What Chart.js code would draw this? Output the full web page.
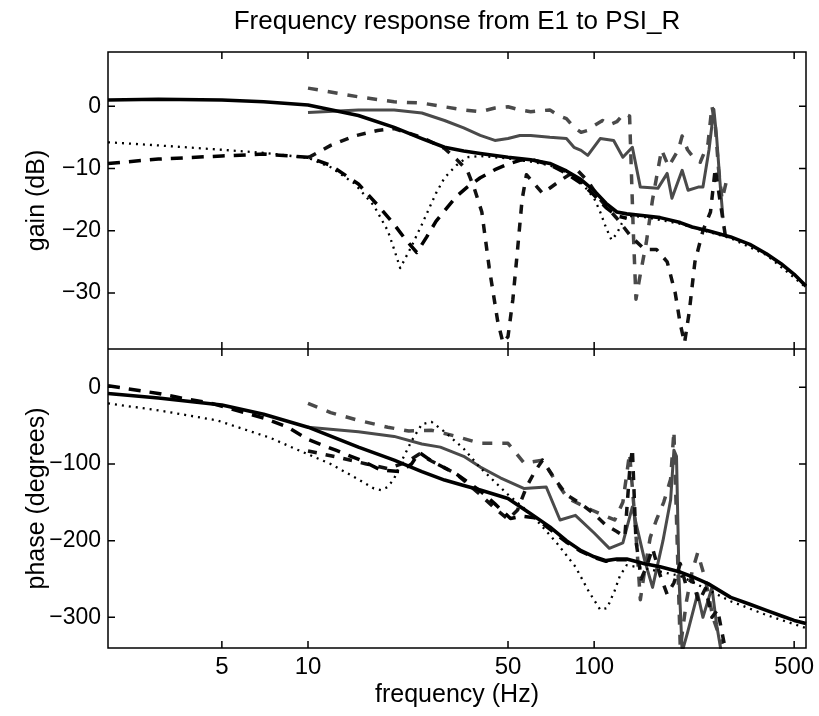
<!DOCTYPE html>
<html>
<head>
<meta charset="utf-8">
<script src="https://cdn.jsdelivr.net/npm/chart.js@4.4.1/dist/chart.umd.min.js"></script>
<style>
  body { margin: 0; background: #fff; }
  #wrap { position: relative; width: 819px; height: 716px; background: #fff; }
  canvas { position: absolute; left: 0; }
  #gainChart { top: 0; }
  #phaseChart { top: 349px; }
</style>
</head>
<body>
<div id="wrap">
  <canvas id="gainChart" width="819" height="349"></canvas>
  <canvas id="phaseChart" width="819" height="367"></canvas>
</div>
<script>
const FONT = '"Liberation Sans", Arial, Helvetica, sans-serif';

// axis ticks
const xTicks = [5, 10, 50, 100, 500];
const gainTicks = [-30, -20, -10, 0];
const phaseTicks = [-300, -200, -100, 0];

// model, solid black
const freqM1 = [2, 3, 5, 7, 10, 15, 20, 25, 30, 35, 40, 50, 60, 70, 80, 90, 100, 110, 120, 130, 150, 170, 200, 220, 250, 300, 350, 400, 450, 500, 550];
const gainM1 = [1.0, 1.1, 1.0, 0.7, 0.2, -1.5, -3.4, -5.2, -6.6, -7.2, -7.6, -8.2, -8.6, -9.2, -10.4, -11.8, -13.6, -15.6, -17.0, -17.3, -17.6, -17.9, -18.7, -19.4, -20.0, -21.0, -22.2, -23.7, -25.3, -27.0, -28.9];
const phaseM1 = [-8, -14, -23, -35, -52, -78, -95, -110, -121, -128, -134, -145, -165, -182, -200, -213, -221, -226, -224, -224, -230, -234, -241, -247, -256, -274, -283, -291, -298, -304, -308];

// model, dotted black
const freqM2 = [2, 3, 5, 7, 10, 12, 14.5, 17, 19, 20, 21, 23, 25, 28, 30, 33, 36, 40, 50, 60, 70, 80, 90, 100, 105, 110, 115, 120, 125, 130, 150, 200, 300, 400, 550];
const gainM2 = [-5.8, -6.3, -7.0, -7.5, -8.3, -9.8, -12.4, -16, -20, -23, -26, -22.5, -19, -14, -11.5, -9.5, -8.2, -8.0, -8.4, -8.9, -9.5, -10.6, -12.2, -14.8, -17, -19.5, -21.5, -20.5, -18.8, -17.6, -17.8, -18.9, -21.2, -23.9, -29.1];
const freqM2p = [2, 3, 4.8, 7.4, 9, 12, 15, 17, 18, 19, 20, 21, 23, 25, 27, 30, 35, 40, 50, 60, 66, 74, 86, 96, 105, 111, 118, 123, 130, 150, 200, 300, 400, 550];
const phaseM2 = [-21, -30, -43, -66, -80, -100, -120, -132, -134, -130, -119, -100, -70, -48, -45, -58, -80, -105, -140, -165, -182, -203, -234, -267, -290, -288, -265, -246, -232, -236, -246, -279, -297, -314];

// model, dashed black
const freqM3 = [2, 3, 5, 7, 10, 12, 15, 18, 20, 22, 24, 26, 28, 30, 33, 36, 40, 45, 50, 55, 60, 70, 80, 90, 100, 110, 120, 130];
const gainM3 = [-9.2, -8.5, -8.0, -7.7, -8.2, -9.5, -12.5, -16.5, -19, -21.5, -23.5, -21, -18.5, -16.8, -14.5, -13, -11.5, -10.2, -9.3, -8.7, -8.5, -9.4, -10.8, -12.4, -14.3, -16.3, -17.6, -18];
const freqM3p = [2, 3, 3.5, 4.6, 7, 8.5, 10, 12.5, 15.5, 18, 21, 23, 24.5, 27, 33, 40, 45, 51, 56, 62, 70, 80, 90, 100, 110, 120, 130];
const phaseM3 = [2, -8, -13, -21, -40, -52, -68, -82, -96, -108, -110, -100, -85, -96, -113, -135, -152, -171, -168, -170, -185, -202, -214, -222, -227, -225, -225];

// measured, solid gray
const freqD1 = [10, 15, 20, 25, 30, 35, 40, 45, 50, 55, 60, 70, 80, 85, 90, 95, 105, 117, 126, 136, 145, 167, 180, 187, 203, 213, 231, 240, 252, 262, 268, 275, 282];
const gainD1 = [-1.0, -0.6, -0.6, -1.1, -2.3, -3.5, -4.7, -5.5, -5.2, -4.7, -4.7, -5.0, -5.2, -6.6, -7.1, -7.9, -5.2, -5.5, -8.2, -6.6, -13, -13.2, -10.8, -14.8, -10.3, -13.5, -13, -13, -7, -0.5, -5, -12, -18];
const freqD1p = [10, 15, 20, 25, 29, 35, 40, 47, 57, 68, 76, 86, 100, 113, 126, 136, 141, 150, 160, 174, 185, 190, 194, 198, 203, 212, 230, 240, 258, 268, 278];
const phaseD1 = [-52, -58, -64, -74, -78, -90, -104, -118, -132, -130, -173, -167, -190, -210, -203, -156, -182, -225, -261, -200, -147, -82, -90, -250, -345, -320, -269, -300, -261, -310, -345];

// measured, dashed gray
const freqD2 = [10, 15, 20, 25, 30, 35, 40, 45, 50, 55, 60, 70, 75, 80, 85, 90, 95, 100, 107, 113, 120, 127, 133, 137, 140, 145, 152, 160, 172, 182, 197, 203, 212, 222, 235, 250, 258, 265, 272, 280, 290];
const gainD2 = [2.9, 1.5, 0.7, 0.5, -0.1, -0.6, -0.9, -0.3, -0.1, -0.6, -0.9, -0.6, -1.5, -2.0, -3.4, -4.2, -3.9, -3.1, -2.3, -3.0, -2.5, -1.2, -1.6, -20, -31, -27, -22, -15, -7, -9.7, -7, -4.8, -7, -8.2, -9, -6, 0, -3, -10, -15, -12];
const freqD2p = [10, 12, 15, 19, 22.5, 27, 33, 40, 44, 50, 57, 66, 73, 81, 98, 118, 126, 133, 138, 142, 145, 150, 157, 165, 175, 185, 190, 195, 200, 210, 220, 230, 245, 260, 280];
const phaseD2 = [-21, -33, -43, -52, -57, -56, -64, -73, -73, -73, -99, -95, -121, -145, -160, -173, -150, -86, -160, -225, -277, -240, -196, -173, -150, -120, -57, -200, -340, -280, -240, -216, -251, -300, -335];

// measured, dashed black
const freqD3 = [10, 12, 14.5, 17.5, 20, 25, 30, 33, 36, 38, 40.5, 43, 46, 48, 50, 52, 54, 56, 58, 66, 77, 87, 95, 105, 120, 135, 150, 165, 180, 192, 200, 207, 215, 225, 240, 255, 265, 275, 290];
const gainD3 = [-8.3, -6.3, -4.8, -3.9, -3.6, -5.0, -6.8, -8.5, -10.3, -13, -17, -26, -34.5, -38, -37, -31, -23, -15, -11, -14, -11.8, -10.2, -12, -15, -18, -21, -23, -23, -25, -30, -35, -38, -33, -25, -20, -17, -10, -15, -22];
const freqD3p = [10, 13, 16, 19, 22, 24.5, 27, 33, 40, 45, 50, 54, 58, 62, 66, 73, 80, 90, 100, 110, 120, 128, 133, 136, 140, 146, 152, 160, 170, 180, 190, 200, 210, 220, 232, 245, 258, 270, 285];
const phaseD3 = [-83, -92, -100, -106, -98, -87, -96, -113, -140, -158, -172, -160, -130, -110, -95, -120, -140, -152, -165, -180, -188, -195, -110, -80, -200, -250, -235, -210, -245, -270, -255, -230, -260, -250, -280, -262, -300, -290, -335];

function pts(freqs, vals) {
    return freqs.map((f, i) => ({ x: f, y: vals[i] }));
}

const GRAY = '#4a4a4a';

function lineSet(data, color, width, dash) {
    return {
        data: data,
        borderColor: color,
        borderWidth: width,
        borderDash: dash,
        pointRadius: 0,
        fill: false,
        clip: 1
    };
}

// first dataset is drawn on top
const gainSets = [
    lineSet(pts(freqM1, gainM1), '#000', 3.6, []),
    lineSet(pts(freqM2, gainM2), '#000', 2.3, [2, 5]),
    lineSet(pts(freqM3, gainM3), '#000', 3.5, [12, 9]),
    lineSet(pts(freqD3, gainD3), '#111', 3.5, [9, 9]),
    lineSet(pts(freqD1, gainD1), GRAY, 3, []),
    lineSet(pts(freqD2, gainD2), GRAY, 3.5, [10, 10])
];

const phaseSets = [
    lineSet(pts(freqM1, phaseM1), '#000', 3.6, []),
    lineSet(pts(freqM2p, phaseM2), '#000', 2.3, [2, 5]),
    lineSet(pts(freqM3p, phaseM3), '#000', 3.5, [12, 9]),
    lineSet(pts(freqD3p, phaseD3), '#111', 3.5, [9, 9]),
    lineSet(pts(freqD1p, phaseD1), GRAY, 3, []),
    lineSet(pts(freqD2p, phaseD2), GRAY, 3.5, [10, 10])
];

// box round the plot with inward ticks on all four sides
const boxTicks = {
    id: 'boxTicks',
    afterDraw(chart) {
        const { ctx, chartArea: a } = chart;
        const x = chart.scales.x, y = chart.scales.y;
        const len = 7;
        ctx.save();
        ctx.strokeStyle = '#000';
        ctx.lineWidth = 1.5;
        ctx.strokeRect(a.left, a.top, a.right - a.left, a.bottom - a.top);
        ctx.beginPath();
        x.ticks.forEach(t => {
            const px = x.getPixelForValue(t.value);
            ctx.moveTo(px, a.bottom); ctx.lineTo(px, a.bottom - len);
            ctx.moveTo(px, a.top); ctx.lineTo(px, a.top + len);
        });
        y.ticks.forEach(t => {
            const py = y.getPixelForValue(t.value);
            ctx.moveTo(a.left, py); ctx.lineTo(a.left + len, py);
            ctx.moveTo(a.right, py); ctx.lineTo(a.right - len, py);
        });
        ctx.stroke();
        ctx.restore();
    }
};

function noPad(s) {
    s.paddingTop = 0; s.paddingBottom = 0; s.paddingLeft = 0; s.paddingRight = 0;
}

function fmtMinus(v) {
    return v < 0 ? '\u2212' + (-v) : String(v);
}

function makeChart(id, datasets, yMin, yMax, yTickVals, yLabel, withTitle, withXLabels) {
    return new Chart(document.getElementById(id), {
        type: 'line',
        data: { datasets: datasets },
        options: {
            responsive: false,
            animation: false,
            devicePixelRatio: 1,
            layout: { padding: { left: 0, right: 13, top: 0, bottom: 0 } },
            elements: { line: { tension: 0, borderJoinStyle: 'round', borderCapStyle: 'butt' } },
            plugins: {
                legend: { display: false },
                tooltip: { enabled: false },
                title: {
                    display: withTitle,
                    fullSize: false,
                    text: 'Frequency response from E1 to PSI_R',
                    color: '#000',
                    font: { family: FONT, size: 26, weight: 'normal' },
                    padding: { top: 6, bottom: 14.8 }
                }
            },
            scales: {
                x: {
                    type: 'logarithmic',
                    min: 2,
                    max: 550,
                    afterBuildTicks: s => { s.ticks = xTicks.map(v => ({ value: v })); },
                    afterFit: s => { noPad(s); s.height = withXLabels ? 68 : 0; },
                    grid: { display: false, drawTicks: false },
                    border: { display: false },
                    ticks: {
                        display: withXLabels,
                        autoSkip: false,
                        maxRotation: 0,
                        padding: 5,
                        color: '#000',
                        font: { family: FONT, size: 24 },
                        callback: v => String(v)
                    },
                    title: {
                        display: withXLabels,
                        text: 'frequency (Hz)',
                        color: '#000',
                        font: { family: FONT, size: 25 },
                        padding: { top: 0, bottom: 6 }
                    }
                },
                y: {
                    min: yMin,
                    max: yMax,
                    afterBuildTicks: s => { s.ticks = yTickVals.map(v => ({ value: v })); },
                    afterFit: s => { noPad(s); s.width = 108; },
                    grid: { display: false, drawTicks: false },
                    border: { display: false },
                    ticks: {
                        padding: 7,
                        color: '#000',
                        font: { family: FONT, size: 23 },
                        callback: v => fmtMinus(v)
                    },
                    title: {
                        display: true,
                        text: yLabel,
                        color: '#000',
                        font: { family: FONT, size: 25 },
                        padding: { top: 22, bottom: 0 }
                    }
                }
            }
        },
        plugins: [boxTicks]
    });
}

makeChart('gainChart', gainSets, -39, 8.7, gainTicks, 'gain (dB)', true, false);
makeChart('phaseChart', phaseSets, -340, 50, phaseTicks, 'phase (degrees)', false, true);
</script>
</body>
</html>
